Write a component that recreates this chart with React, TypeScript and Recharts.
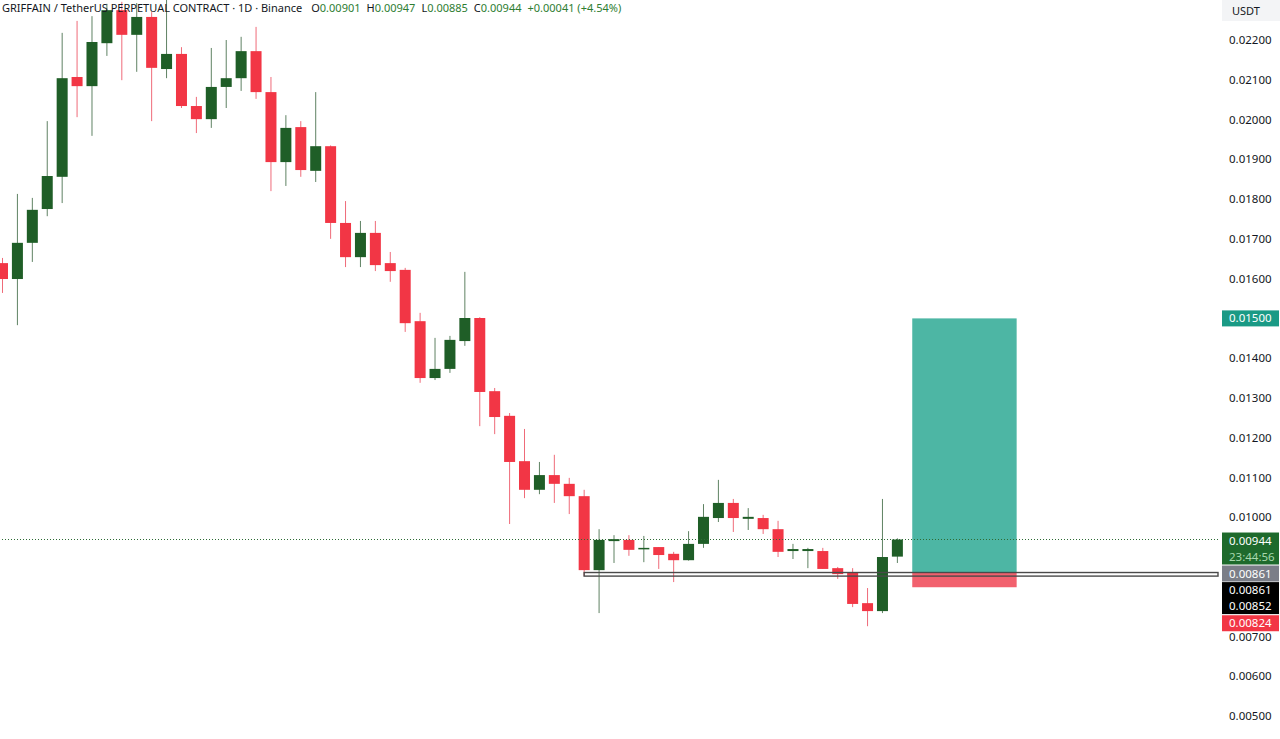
import React from "react";
import { ComposedChart, Bar, XAxis, YAxis, ReferenceLine, ReferenceArea } from "recharts";

// daily candles, oldest first
const opens = [
  0.01639, 0.01599, 0.0169, 0.01775, 0.01856, 0.02107, 0.02084, 0.02192, 0.02275, 0.02213,
  0.02258, 0.02127, 0.02165, 0.02034, 0.02001, 0.02082, 0.02104, 0.02172, 0.02069, 0.01893,
  0.01981, 0.01871, 0.01933, 0.0174, 0.01654, 0.01715, 0.01639, 0.01622, 0.01493, 0.0135,
  0.01373, 0.01443, 0.01501, 0.01317, 0.01255, 0.01141, 0.01069, 0.01106, 0.01084, 0.01053,
  0.00867, 0.0094, 0.00943, 0.0092, 0.00925, 0.00908, 0.00892, 0.00933, 0.00998, 0.01036,
  0.00996, 0.00998, 0.0097, 0.00915, 0.00915, 0.00915, 0.00872, 0.00862, 0.00784, 0.00764,
  0.00901,
];
const highs = [
  0.01652, 0.01813, 0.01803, 0.01996, 0.02218, 0.02248, 0.0226, 0.02291, 0.02296, 0.02293,
  0.0227, 0.02301, 0.02182, 0.02057, 0.0218, 0.022, 0.02208, 0.02233, 0.02107, 0.02011,
  0.01996, 0.02069, 0.01935, 0.01795, 0.01745, 0.01745, 0.01667, 0.01627, 0.01514, 0.01451,
  0.01456, 0.01617, 0.01503, 0.01325, 0.01262, 0.01222, 0.01139, 0.01157, 0.01099, 0.01069,
  0.0097, 0.00955, 0.00955, 0.00953, 0.00925, 0.00913, 0.00965, 0.01033, 0.01094, 0.01046,
  0.01023, 0.01006, 0.00991, 0.00933, 0.00923, 0.00923, 0.00875, 0.00872, 0.00822, 0.01046,
  0.00947,
];
const lows = [
  0.01564, 0.01483, 0.01642, 0.01757, 0.0179, 0.02006, 0.01959, 0.0216, 0.02099, 0.0212,
  0.01996, 0.02104, 0.02029, 0.01966, 0.01979, 0.02029, 0.02072, 0.02052, 0.0182, 0.01833,
  0.01856, 0.01843, 0.017, 0.01629, 0.01629, 0.01619, 0.01592, 0.01466, 0.01338, 0.01345,
  0.01363, 0.01431, 0.01229, 0.01209, 0.00983, 0.01048, 0.01058, 0.01036, 0.01008, 0.00852,
  0.00759, 0.00885, 0.00903, 0.00887, 0.0087, 0.00837, 0.00891, 0.00923, 0.00988, 0.00963,
  0.00968, 0.00958, 0.009, 0.00895, 0.00872, 0.0087, 0.00845, 0.00774, 0.00726, 0.00759,
  0.00885,
];
const closes = [
  0.01599, 0.0169, 0.01773, 0.01858, 0.02104, 0.02084, 0.02195, 0.02275, 0.02213, 0.02258,
  0.0213, 0.02165, 0.02034, 0.02001, 0.02082, 0.02104, 0.02172, 0.02069, 0.01893, 0.01979,
  0.01873, 0.01933, 0.0174, 0.01654, 0.01715, 0.01634, 0.01619, 0.01488, 0.0135, 0.01373,
  0.01446, 0.01501, 0.01315, 0.01252, 0.01139, 0.01069, 0.01106, 0.01084, 0.01053, 0.00867,
  0.00943, 0.00945, 0.00918, 0.00923, 0.00905, 0.00892, 0.00933, 0.01001, 0.01036, 0.00998,
  0.01001, 0.0097, 0.00913, 0.0092, 0.0092, 0.0087, 0.00857, 0.00782, 0.00764, 0.009,
  0.00944,
];

const futureSlots = 21;
// 0.015 sits under the target tag, 0.008/0.009 under the stacked tags
const priceTicks = [
  0.005, 0.006, 0.007, 0.01, 0.011, 0.012, 0.013, 0.014, 0.016, 0.017, 0.018, 0.019,
  0.02, 0.021, 0.022,
];

const lastPrice = 0.00944;
const countdown = "23:44:56";
const targetPrice = 0.015;
const entryPrice = 0.00861;
const zoneLow = 0.00852;
const stopPrice = 0.00824;
const zoneStart = 39;
const posStart = 61;
const posEnd = 67;

const titleText = "GRIFFAIN / TetherUS PERPETUAL CONTRACT · 1D · Binance";
const changeText = "+0.00041 (+4.54%)";

const UP = "#1f5e27";
const UP_WICK = "#5f8263";
const DOWN = "#f23645";
const DOWN_WICK = "#ef6b79";
const FONT = '"Noto Sans", sans-serif';

const CHART_W = 1285;
const CHART_H = 739;
const AXIS_W = 62;
const SLOTS = opens.length + futureSlots;
const HALF = (CHART_W - AXIS_W) / SLOTS / 2;

const rows = Array.from({ length: SLOTS }, (_, i) =>
  i < opens.length
    ? { idx: i, open: opens[i], high: highs[i], low: lows[i], close: closes[i], range: [lows[i], highs[i]] }
    : { idx: i, range: null }
);

const Candle = (props: any) => {
  const { x, y, width, height, payload } = props;
  if (!payload || payload.open == null) return null;
  const { open, high, low, close } = payload;
  const top0 = Math.min(y, y + height);
  const h = Math.abs(height);
  const span = high - low || 1e-9;
  const toY = (v: number) => top0 + ((high - v) / span) * h;
  const up = close >= open;
  const bTop = toY(Math.max(open, close));
  const bBot = toY(Math.min(open, close));
  const cx = x + width / 2;
  return (
    <g>
      <line x1={cx} x2={cx} y1={top0} y2={top0 + h} stroke={up ? UP_WICK : DOWN_WICK} strokeWidth={1} />
      <rect x={x} y={bTop} width={width} height={Math.max(bBot - bTop, 1.5)} fill={up ? UP : DOWN} />
    </g>
  );
};

const PriceTag = (props: any) => {
  const { viewBox, lines, tagFill, colors, shift = 0 } = props;
  if (!viewBox) return null;
  const left = viewBox.x + viewBox.width + 4;
  const top = viewBox.y - 8 + shift;
  return (
    <g>
      <rect x={left} y={top} width={57} height={16 * lines.length} fill={tagFill} />
      {lines.map((t: string, i: number) => (
        <text key={i} x={left + 7} y={top + 12 + i * 16} fill={colors[i]} fontSize={11.5} fontFamily={FONT}>
          {t}
        </text>
      ))}
    </g>
  );
};

// drawings are anchored at candle centres
const ShiftedBox = (props: any) => {
  const { x, y, width, height, fill, stroke, fillOpacity } = props;
  return (
    <rect
      x={x + HALF}
      y={y}
      width={Math.max(width - HALF, 0)}
      height={height}
      fill={fill}
      fillOpacity={fillOpacity}
      stroke={stroke}
      strokeWidth={1.4}
    />
  );
};

const PosBox = (props: any) => {
  const { x, y, width, height, fill } = props;
  return <rect x={x + HALF} y={y} width={width} height={height} fill={fill} />;
};

export default function App() {
  const fmt = (v: number) => v.toFixed(5);
  return (
    <div style={{ position: "absolute", left: 0, top: 0, width: 1280, height: 739, overflow: "hidden", background: "#fff" }}>
      <div style={{ position: "absolute", left: -5, top: 0 }}>
        <ComposedChart width={CHART_W} height={CHART_H} data={rows} margin={{ top: 0, right: 0, bottom: 0, left: 0 }}>
          <XAxis dataKey="idx" type="category" hide />
          <YAxis
            orientation="right"
            width={AXIS_W}
            domain={[0.004424, 0.023006]}
            allowDataOverflow
            ticks={priceTicks}
            tickFormatter={fmt}
            axisLine={false}
            tickLine={false}
            tickSize={0}
            tickMargin={11}
            tick={{ fill: "#131722", fontSize: 11.5, fontFamily: FONT }}
          />
          <ReferenceArea
            x1={posStart}
            x2={posEnd}
            y1={entryPrice}
            y2={targetPrice}
            ifOverflow="visible"
            fill="#4db6a4"
            fillOpacity={1}
            stroke="none"
            shape={<PosBox />}
          />
          <ReferenceArea
            x1={posStart}
            x2={posEnd}
            y1={stopPrice}
            y2={entryPrice}
            ifOverflow="visible"
            fill="#f2616e"
            fillOpacity={1}
            stroke="none"
            shape={<PosBox />}
          />
          <Bar dataKey="range" barSize={11} shape={<Candle />} isAnimationActive={false} />
          <ReferenceArea
            x1={zoneStart}
            y1={zoneLow}
            y2={entryPrice}
            ifOverflow="visible"
            fill="none"
            fillOpacity={0}
            stroke="#4a4a4a"
            shape={<ShiftedBox />}
            zIndex={700}
          />
          <ReferenceLine
            y={lastPrice}
            stroke="#2e6b35"
            strokeDasharray="1 2"
            ifOverflow="visible"
            zIndex={700}
            label={<PriceTag lines={[fmt(lastPrice), countdown]} tagFill="#1e6a2c" colors={["#ffffff", "#a8d8ae"]} shift={1} />}
          />
          <ReferenceLine
            y={targetPrice}
            stroke="none"
            ifOverflow="visible"
            label={<PriceTag lines={[fmt(targetPrice)]} tagFill="#1a9a85" colors={["#ffffff"]} />}
          />
          <ReferenceLine
            y={entryPrice}
            stroke="none"
            ifOverflow="visible"
            label={<PriceTag lines={[fmt(entryPrice)]} tagFill="#7b7e88" colors={["#ffffff"]} shift={1} />}
          />
          <ReferenceLine
            y={zoneLow}
            stroke="none"
            ifOverflow="visible"
            label={<PriceTag lines={[fmt(entryPrice), fmt(zoneLow)]} tagFill="#000000" colors={["#ffffff", "#ffffff"]} shift={14} />}
          />
          <ReferenceLine
            y={stopPrice}
            stroke="none"
            ifOverflow="visible"
            label={<PriceTag lines={[fmt(stopPrice)]} tagFill="#f23645" colors={["#ffffff"]} shift={36} />}
          />
        </ComposedChart>
      </div>
      <div
        style={{
          position: "absolute",
          left: 2,
          top: 0,
          fontFamily: FONT,
          fontSize: 11,
          lineHeight: "15px",
          color: "#131722",
          whiteSpace: "nowrap",
        }}
      >
        <span>{titleText}</span>
        <span style={{ marginLeft: 9 }}>O</span>
        <span style={{ color: "#2e7d32" }}>{fmt(opens[opens.length - 1])}</span>
        <span style={{ marginLeft: 6 }}>H</span>
        <span style={{ color: "#2e7d32" }}>{fmt(highs[highs.length - 1])}</span>
        <span style={{ marginLeft: 6 }}>L</span>
        <span style={{ color: "#2e7d32" }}>{fmt(lows[lows.length - 1])}</span>
        <span style={{ marginLeft: 6 }}>C</span>
        <span style={{ color: "#2e7d32" }}>{fmt(closes[closes.length - 1])}</span>
        <span style={{ marginLeft: 6, color: "#2e7d32" }}>{changeText}</span>
      </div>
      <div
        style={{
          position: "absolute",
          left: 1222,
          top: 0,
          width: 58,
          height: 21,
          background: "#f3f4f6",
          fontFamily: FONT,
          fontSize: 11,
          lineHeight: "21px",
          color: "#131722",
          paddingLeft: 10,
          boxSizing: "border-box",
        }}
      >
        USDT
      </div>
    </div>
  );
}
